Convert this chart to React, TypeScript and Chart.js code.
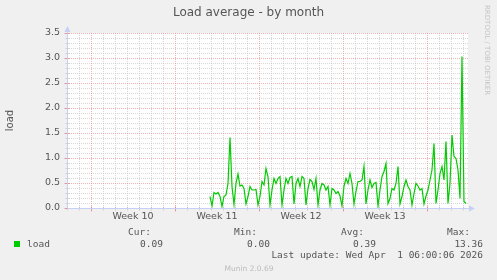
import React, { useEffect, useRef } from "react";
import { Chart, registerables } from "chart.js";

Chart.register(...registerables);

// ---------- data ----------
const TITLE = "Load average - by month";
const Y_TITLE = "load";
const Y_MAX = 3.5;
const Y_TICKS = [0.0, 0.5, 1.0, 1.5, 2.0, 2.5, 3.0, 3.5];
const Y_TICK_LABELS = ["0.0", "0.5", "1.0", "1.5", "2.0", "2.5", "3.0", "3.5"];
const Y_MINOR_STEP = 0.1;
const X_MAX_HOURS = 802; // hours since Sat 2026-02-28 00:00
const DAY_HOURS = 24;
const WEEK_START_HOURS = [48, 216, 384, 552, 720]; // Mondays
const WEEK_LABELS = ["Week 10", "Week 11", "Week 12", "Week 13"];
const SERIES_START_HOUR = 286;
const SERIES_STEP_HOURS = 4;
const LOAD_VALUES = [
  0.23, 0.04, 0.31, 0.28, 0.31, 0.23,
  0.03, 0.23, 0.26, 0.49, 1.41, 0.43,
  0.07, 0.49, 0.68, 0.44, 0.46, 0.39,
  0.08, 0.23, 0.43, 0.36, 0.36, 0.37,
  0.06, 0.23, 0.53, 0.46, 0.79, 0.63,
  0.06, 0.36, 0.59, 0.49, 0.59, 0.63,
  0.06, 0.36, 0.59, 0.49, 0.61, 0.63,
  0.08, 0.49, 0.59, 0.43, 0.63, 0.59,
  0.06, 0.39, 0.57, 0.53, 0.37, 0.59,
  0.06, 0.36, 0.49, 0.46, 0.36, 0.43,
  0.06, 0.39, 0.36, 0.29, 0.33, 0.24,
  0.04, 0.44, 0.59, 0.49, 0.69, 0.49,
  0.08, 0.33, 0.53, 0.53, 0.56, 0.83,
  0.08, 0.36, 0.56, 0.41, 0.49, 0.51,
  0.04, 0.36, 0.63, 0.73, 0.89,
  0.09, 0.19, 0.39, 0.36, 0.49, 0.83,
  0.08, 0.23, 0.43, 0.56, 0.43, 0.36,
  0.06, 0.29, 0.49, 0.44, 0.36, 0.39,
  0.08, 0.24, 0.36, 0.56, 0.76, 1.29,
  0.09, 0.36, 0.69, 0.83, 0.56, 1.33,
  0.09, 0.49, 1.46, 1.03, 0.99, 0.76, 0.19, 3.03,
  0.13, 0.09,
];
const LEGEND_NAME = "load";
const STAT_HEADERS = ["Cur:", "Min:", "Avg:", "Max:"];
const STAT_VALUES = ["0.09", "0.00", "0.39", "13.36"];
const LAST_UPDATE = "Last update: Wed Apr  1 06:00:06 2026";
const FOOTER = "Munin 2.0.69";
const WATERMARK = "RRDTOOL / TOBI OETIKER";

// ---------- styles ----------
const W = 497;
const H = 280;
const LINE_COLOR = "#00cc00";
const BACK = "#f0f0f0";
const CANVAS_BG = "#ffffff";
const GRID = "rgba(190,190,190,0.6)";
const MGRID = "rgba(230,130,130,0.6)";
const AXIS = "#c8cff5";
const TEXT = "#555555";
const SANS = "'DejaVu Sans', sans-serif";
const MONO = "'DejaVu Sans Mono', monospace";

const isMajorY = (v: number) => Math.abs(v / 0.5 - Math.round(v / 0.5)) < 1e-6;

const muninPlugin = {
  id: "muninLook",
  beforeDraw(chart: any) {
    const { ctx } = chart;
    ctx.save();
    ctx.fillStyle = BACK;
    ctx.fillRect(0, 0, W, H);
    const a = chart.chartArea;
    ctx.fillStyle = CANVAS_BG;
    ctx.fillRect(a.left, a.top, a.right - a.left, a.bottom - a.top);
    ctx.restore();
  },
  beforeDatasetsDraw(chart: any) {
    const { ctx } = chart;
    const a = chart.chartArea;
    const xs = chart.scales.x;
    const ys = chart.scales.y;
    ctx.save();
    ctx.lineWidth = 1;
    ctx.setLineDash([1, 1]);
    ctx.strokeStyle = GRID;
    for (let h = 0; h <= X_MAX_HOURS; h += DAY_HOURS) {
      if (WEEK_START_HOURS.includes(h)) continue;
      const x = Math.round(xs.getPixelForValue(h)) + 0.5;
      ctx.beginPath();
      ctx.moveTo(x, a.top);
      ctx.lineTo(x, a.bottom);
      ctx.stroke();
    }
    const n = Math.round(Y_MAX / Y_MINOR_STEP);
    for (let i = 1; i <= n; i++) {
      const v = i * Y_MINOR_STEP;
      if (isMajorY(v)) continue;
      const y = Math.round(ys.getPixelForValue(v)) + 0.5;
      ctx.beginPath();
      ctx.moveTo(a.left, y);
      ctx.lineTo(a.right, y);
      ctx.stroke();
    }
    ctx.strokeStyle = MGRID;
    for (const h of WEEK_START_HOURS) {
      const x = Math.round(xs.getPixelForValue(h)) + 0.5;
      ctx.beginPath();
      ctx.moveTo(x, a.top);
      ctx.lineTo(x, a.bottom);
      ctx.stroke();
    }
    for (const v of Y_TICKS) {
      if (v === 0) continue;
      const y = Math.round(ys.getPixelForValue(v)) + 0.5;
      ctx.beginPath();
      ctx.moveTo(a.left, y);
      ctx.lineTo(a.right, y);
      ctx.stroke();
    }
    ctx.restore();
  },
  afterDatasetsDraw(chart: any) {
    const { ctx } = chart;
    const a = chart.chartArea;
    const xs = chart.scales.x;
    const ys = chart.scales.y;
    const x0 = Math.round(a.left) + 0.5;
    const y0 = Math.round(a.bottom) + 0.5;
    ctx.save();
    ctx.lineWidth = 1;
    ctx.strokeStyle = GRID;
    for (let h = 0; h <= X_MAX_HOURS; h += DAY_HOURS) {
      const x = Math.round(xs.getPixelForValue(h)) + 0.5;
      ctx.beginPath();
      ctx.moveTo(x, y0 - 2);
      ctx.lineTo(x, y0 + 2);
      ctx.stroke();
    }
    const n = Math.round(Y_MAX / Y_MINOR_STEP);
    for (let i = 0; i <= n; i++) {
      const y = Math.round(ys.getPixelForValue(i * Y_MINOR_STEP)) + 0.5;
      ctx.beginPath();
      ctx.moveTo(x0 - 2, y);
      ctx.lineTo(x0 + 2, y);
      ctx.stroke();
    }
    ctx.strokeStyle = "rgba(230,120,120,0.7)";
    for (const h of WEEK_START_HOURS) {
      const x = Math.round(xs.getPixelForValue(h)) + 0.5;
      ctx.beginPath();
      ctx.moveTo(x, y0 - 2);
      ctx.lineTo(x, y0 + 3);
      ctx.stroke();
    }
    for (const v of Y_TICKS) {
      const y = Math.round(ys.getPixelForValue(v)) + 0.5;
      ctx.beginPath();
      ctx.moveTo(x0 - 3, y);
      ctx.lineTo(x0 + 2, y);
      ctx.stroke();
    }
    ctx.strokeStyle = AXIS;
    ctx.beginPath();
    ctx.moveTo(x0, y0);
    ctx.lineTo(x0, a.top - 3);
    ctx.moveTo(x0, y0);
    ctx.lineTo(a.right + 3, y0);
    ctx.stroke();
    ctx.fillStyle = AXIS;
    ctx.beginPath();
    ctx.moveTo(x0 - 3, a.top - 1);
    ctx.lineTo(x0 + 3, a.top - 1);
    ctx.lineTo(x0, a.top - 7);
    ctx.closePath();
    ctx.fill();
    ctx.beginPath();
    ctx.moveTo(a.right + 1, y0 - 3);
    ctx.lineTo(a.right + 1, y0 + 3);
    ctx.lineTo(a.right + 7, y0);
    ctx.closePath();
    ctx.fill();
    ctx.restore();
  },
  afterDraw(chart: any) {
    const { ctx } = chart;
    const a = chart.chartArea;
    const xs = chart.scales.x;
    const ys = chart.scales.y;
    ctx.save();
    ctx.fillStyle = TEXT;
    ctx.font = `12px ${SANS}`;
    ctx.textAlign = "center";
    ctx.textBaseline = "middle";
    ctx.fillText(TITLE, W / 2, 13);
    ctx.font = `9.5px ${SANS}`;
    ctx.textAlign = "right";
    Y_TICKS.forEach((v, i) => {
      ctx.fillText(Y_TICK_LABELS[i], a.left - 7, ys.getPixelForValue(v));
    });
    ctx.textAlign = "center";
    WEEK_LABELS.forEach((lbl, i) => {
      const mid = (WEEK_START_HOURS[i] + WEEK_START_HOURS[i + 1]) / 2;
      ctx.fillText(lbl, xs.getPixelForValue(mid), a.bottom + 9);
    });
    ctx.save();
    ctx.font = `10px ${SANS}`;
    ctx.translate(10, (a.top + a.bottom) / 2);
    ctx.rotate(-Math.PI / 2);
    ctx.textAlign = "center";
    ctx.fillText(Y_TITLE, 0, 0);
    ctx.restore();
    ctx.save();
    ctx.fillStyle = "#c4c4c4";
    ctx.font = `7px ${SANS}`;
    ctx.translate(487, 5);
    ctx.rotate(Math.PI / 2);
    ctx.textAlign = "left";
    ctx.textBaseline = "middle";
    ctx.fillText(WATERMARK, 0, 0);
    ctx.restore();
    ctx.font = `9.5px ${MONO}`;
    ctx.textBaseline = "middle";
    ctx.textAlign = "right";
    const headerRight = [151, 257, 364, 470];
    const valueRight = [163, 270, 376, 483];
    STAT_HEADERS.forEach((h, i) => ctx.fillText(h, headerRight[i], 233));
    STAT_VALUES.forEach((v, i) => ctx.fillText(v, valueRight[i], 244.5));
    ctx.fillText(LAST_UPDATE, 483, 256);
    ctx.fillStyle = LINE_COLOR;
    ctx.fillRect(14, 241, 6, 6);
    ctx.fillStyle = TEXT;
    ctx.textAlign = "left";
    ctx.fillText(LEGEND_NAME, 27, 244.5);
    ctx.fillStyle = "#bbbbbb";
    ctx.font = `7.5px ${SANS}`;
    ctx.textAlign = "center";
    ctx.fillText(FOOTER, 249, 269);
    ctx.restore();
  },
};

export default function App() {
  const ref = useRef<HTMLCanvasElement | null>(null);
  useEffect(() => {
    if (!ref.current) return;
    const points = LOAD_VALUES.map((v, i) => ({
      x: SERIES_START_HOUR + i * SERIES_STEP_HOURS,
      y: v,
    }));
    const chart = new Chart(ref.current, {
      type: "line",
      data: {
        datasets: [
          {
            label: LEGEND_NAME,
            data: points,
            borderColor: LINE_COLOR,
            borderWidth: 1.2,
            pointRadius: 0,
            tension: 0,
            fill: false,
          },
        ],
      },
      options: {
        responsive: false,
        animation: false,
        events: [],
        layout: { padding: { left: 67, top: 33, right: W - 468, bottom: H - 208 } },
        plugins: { legend: { display: false }, tooltip: { enabled: false }, title: { display: false } },
        scales: {
          x: { type: "linear", min: 0, max: X_MAX_HOURS, display: false },
          y: { type: "linear", min: 0, max: Y_MAX, display: false },
        },
      },
      plugins: [muninPlugin],
    });
    return () => chart.destroy();
  }, []);
  return (
    <div style={{ position: "fixed", left: 0, top: 0, width: W, height: H }}>
      <canvas ref={ref} width={W} height={H} style={{ width: W, height: H, display: "block" }} />
    </div>
  );
}
